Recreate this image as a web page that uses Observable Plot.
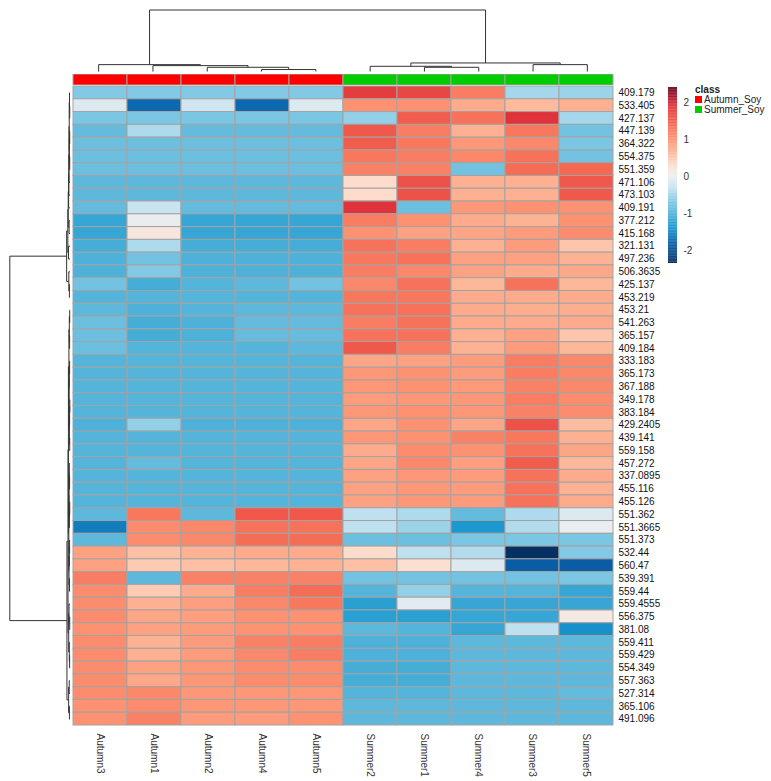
<!DOCTYPE html>
<html><head><meta charset="utf-8">
<script src="https://cdn.jsdelivr.net/npm/d3@7"></script>
<script src="https://cdn.jsdelivr.net/npm/@observablehq/plot@0.6"></script>
<style>
body{margin:0;background:#fff;font-family:"Liberation Sans",Arial,sans-serif;}
#wrap{position:relative;width:771px;height:781px;overflow:hidden;}
#wrap > svg, #wrap > div{position:absolute;}
.lg{font-size:10px;color:#222;white-space:nowrap;line-height:11px;}
</style></head><body><div id="wrap"></div>
<script>
// ---------- data ----------
const colLabels = ["Autumn3","Autumn1","Autumn2","Autumn4","Autumn5","Summer2","Summer1","Summer4","Summer3","Summer5"];
const colClasses = ["Autumn_Soy","Autumn_Soy","Autumn_Soy","Autumn_Soy","Autumn_Soy","Summer_Soy","Summer_Soy","Summer_Soy","Summer_Soy","Summer_Soy"];
const classNames = ["Autumn_Soy","Summer_Soy"];
const classColors = ["#ff0000","#00cc00"];
const rowLabels = ["409.179","533.405","427.137","447.139","364.322","554.375","551.359","471.106","473.103","409.191",
  "377.212","415.168","321.131","497.236","506.3635","425.137","453.219","453.21","541.263","365.157",
  "409.184","333.183","365.173","367.188","349.178","383.184","429.2405","439.141","559.158","457.272",
  "337.0895","455.116","455.126","551.362","551.3665","551.373","532.44","560.47","539.391","559.44",
  "559.4555","556.375","381.08","559.411","559.429","554.349","557.363","527.314","365.106","491.096"];
const values = [
  [-0.7,-0.7,-0.7,-0.7,-0.7, 1.8,1.7,1.2,-0.5,-0.55],
  [-0.15,-1.75,-0.25,-1.75,-0.15, 1.0,1.0,0.75,0.6,0.7],
  [-0.75,-0.75,-0.75,-0.75,-0.75, -0.6,1.5,1.3,1.9,-0.5],
  [-0.9,-0.45,-0.9,-0.9,-0.9, 1.55,1.2,0.7,1.25,-0.8],
  [-0.85,-0.85,-0.85,-0.85,-0.85, 1.5,1.25,0.95,1.1,-0.75],
  [-0.85,-0.85,-0.85,-0.85,-0.85, 1.25,1.2,1.1,1.3,-0.8],
  [-0.85,-0.85,-0.85,-0.85,-0.85, 1.15,1.15,-0.8,1.35,1.4],
  [-0.95,-0.95,-0.95,-0.95,-0.95, 0.3,1.6,0.7,0.7,1.55],
  [-0.95,-0.95,-0.95,-0.95,-0.95, 0.3,1.6,0.7,0.7,1.55],
  [-0.9,-0.3,-0.9,-0.9,-0.9, 1.9,-0.85,0.95,1.0,1.0],
  [-1.2,-0.05,-1.2,-1.2,-1.2, 1.2,1.0,0.75,0.68,1.0],
  [-1.2,0.15,-1.2,-1.2,-1.2, 1.0,0.85,0.8,0.9,1.05],
  [-1.1,-0.45,-1.1,-1.1,-1.1, 1.3,1.2,0.7,0.9,0.5],
  [-1.05,-0.8,-1.05,-1.05,-1.05, 1.25,1.3,0.85,0.85,0.68],
  [-1.05,-0.7,-1.05,-1.05,-1.05, 1.2,1.1,0.85,0.75,0.78],
  [-0.8,-1.1,-1.0,-0.95,-0.8, 1.1,1.3,0.62,1.3,0.62],
  [-1.0,-1.0,-1.0,-1.0,-1.0, 1.25,1.25,0.75,0.75,0.75],
  [-0.95,-1.05,-1.0,-0.95,-0.95, 1.3,1.3,0.75,0.72,0.72],
  [-0.85,-1.1,-1.05,-0.9,-0.9, 1.2,1.3,0.75,0.75,0.75],
  [-0.85,-1.1,-1.05,-0.88,-0.88, 1.3,1.3,0.7,0.85,0.5],
  [-0.85,-1.0,-1.0,-1.0,-0.95, 1.55,1.2,0.68,0.9,0.62],
  [-1,-1,-1,-1,-1, 0.8,0.85,0.9,1.2,1.1],
  [-1,-1,-1,-1,-1, 0.95,1.0,0.9,1.2,1.1],
  [-1,-1,-1,-1,-1, 0.95,1.0,0.92,1.15,1.1],
  [-1,-1,-1,-1,-1, 0.9,0.95,0.95,1.2,1.05],
  [-1,-1,-1,-1,-1, 0.95,1.0,0.95,1.15,1.05],
  [-1.05,-0.6,-1.05,-1.05,-1.05, 0.8,1.0,0.8,1.6,0.58],
  [-1,-1,-1,-1,-1, 0.95,1.0,1.15,1.25,0.7],
  [-1,-1,-1,-1,-1, 0.75,1.05,1.0,1.3,0.8],
  [-1,-0.9,-1,-1,-1, 0.8,1.1,0.88,1.5,0.62],
  [-1,-1,-1,-1,-1, 0.85,0.95,0.9,1.3,0.75],
  [-1,-1,-1,-1,-1, 0.85,0.95,0.9,1.3,0.68],
  [-1,-1,-1,-1,-1, 0.85,0.95,0.9,1.3,0.75],
  [-0.95,1.25,-0.95,1.55,1.55, -0.35,-0.45,-0.9,-0.45,-0.15],
  [-1.6,1.05,1.1,1.3,1.3, -0.35,-0.55,-1.4,-0.42,-0.05],
  [-0.95,1.05,1.1,1.35,1.35, -0.85,-0.85,-0.75,-0.75,-0.75],
  [0.85,0.55,0.68,0.75,0.75, 0.3,-0.35,-0.42,-2.35,-0.7],
  [0.85,0.45,0.55,0.62,0.68, 0.55,0.25,-0.15,-1.85,-1.85],
  [1.2,-0.95,1.15,1.15,1.15, -0.8,-0.8,-0.8,-0.8,-0.75],
  [1.05,0.45,0.75,1.2,1.35, -1.0,-0.6,-1.0,-1.0,-1.2],
  [1.05,0.7,0.88,1.1,1.25, -1.3,-0.1,-1.2,-1.2,-1.2],
  [1.05,0.8,0.88,1.0,1.0, -1.3,-1.3,-1.2,-1.2,0.1],
  [1.0,0.85,0.9,0.98,1.0, -0.95,-1.0,-1.2,-0.35,-1.45],
  [1.05,0.68,0.9,1.15,1.2, -1.05,-1.05,-0.95,-0.95,-0.95],
  [1.05,0.7,0.9,1.1,1.2, -1.05,-1.05,-0.95,-0.95,-0.95],
  [1.05,0.85,0.95,1.05,1.05, -1.1,-1.1,-0.95,-0.95,-0.95],
  [1.05,0.78,0.95,1.05,1.05, -1.1,-1.1,-0.95,-0.95,-0.95],
  [1.05,1.1,0.95,0.95,0.95, -1.0,-1.0,-0.95,-0.95,-0.9],
  [1.0,1.05,0.95,0.95,0.95, -0.95,-0.95,-0.95,-0.95,-0.95],
  [1.0,1.15,0.9,0.9,1.0, -0.95,-0.95,-0.95,-0.95,-0.95]
];
const legendTicks = [-2,-1,0,1,2];
const colorStops = [-2.35,-1.8,-1.4,-1.0,-0.6,-0.3,0,0.3,0.6,1.0,1.4,1.9,2.4];
const colorRamp = ["#053061","#0a62ab","#1a98cf","#55b4da","#92d0e8","#c8e4f0","#efefef","#fddccb","#fdba9c","#fc9272","#f56852","#e0323a","#67001f"];
// dendrograms: "(left,right)height", leaves are display positions
const colTree = "((0,(1,(2,(3,4)2)4.3)6)7,((5,(6,7)4.3)5.3,(8,9)7)8.7)62.7";
const rowTree = "((((0,1)0.6,(2,3)0.8)1.4,((((4,5)0.4,6)0.7,((7,8)0.3,9)1.0)1.3,"
  + "((((10,11)0.5,(12,(13,14)0.4)0.7)1.0,((15,(16,17)0.3)0.6,((18,19)0.4,20)0.7)0.9)1.2,"
  + "((((21,22)0.3,(23,(24,25)0.2)0.4)0.6,(26,(27,28)0.4)0.8)1.0,((29,30)0.4,(31,32)0.3)0.7)1.1)1.6)2.0)3.1,"
  + "(((33,34)0.6,35)1.2,((36,37)1.5,((38,39)0.9,(40,(41,(42,(((43,44)0.3,(45,46)0.3)0.6,((47,48)0.3,49)0.5)0.8)1.0)1.2)1.4)1.8)2.2)3.4)61";

// ---------- helpers ----------
function parseTree(s){
  let i = 0;
  const num = () => { const m = /^[0-9.]+/.exec(s.slice(i)); i += m[0].length; return +m[0]; };
  const node = () => {
    if (s[i] === "(") {
      i++; const a = node(); i++; const b = node(); i++;
      return {children:[a,b], h:num()};
    }
    return {leaf:num(), h:0};
  };
  return node();
}
function layout(n){
  if (n.children){ n.children.forEach(layout); n.pos = d3.mean(n.children, c => c.pos); }
  else n.pos = n.leaf + 0.5;
  return n;
}
function segments(n, out = []){
  if (n.children){
    const [a,b] = n.children;
    out.push({p1:a.pos,h1:a.h,p2:a.pos,h2:n.h},{p1:a.pos,h1:n.h,p2:b.pos,h2:n.h},{p1:b.pos,h1:n.h,p2:b.pos,h2:b.h});
    segments(a,out); segments(b,out);
  }
  return out;
}
const font = "'Liberation Sans', Arial, sans-serif";
const colorOpt = {type:"linear", domain:colorStops, range:colorRamp, interpolate:"rgb"};
const wrap = document.getElementById("wrap");
function place(el, left, top){ el.style.left = left + "px"; el.style.top = top + "px"; wrap.appendChild(el); }

// ---------- heatmap ----------
const cells = values.flatMap((r,i) => r.map((v,j) => ({row:rowLabels[i], col:colLabels[j], v})));
const heat = Plot.plot({
  width:771, height:781, marginLeft:71, marginRight:157, marginTop:86, marginBottom:56,
  style:{fontFamily:font, fontSize:"10px", background:"transparent"},
  x:{type:"band", domain:colLabels, padding:0, label:null},
  y:{type:"band", domain:rowLabels, padding:0, label:null},
  color:colorOpt,
  marks:[
    Plot.cell(cells, {x:"col", y:"row", fill:"v", stroke:"#a3a3a3", strokeWidth:1, inset:0}),
    Plot.axisY({anchor:"right", tickSize:0, tickPadding:4, fill:"#111", label:null}),
    Plot.axisX({anchor:"bottom", tickSize:0, tickPadding:8, tickRotate:90, fill:"#333", label:null})
  ]
});
place(heat, 0, 0);

// ---------- column dendrogram ----------
const colRoot = layout(parseTree(colTree));
const colDendro = Plot.plot({
  width:771, height:73, marginLeft:71, marginRight:157, marginTop:9.5, marginBottom:2,
  style:{background:"transparent"},
  x:{domain:[0, colLabels.length], axis:null},
  y:{domain:[0, colRoot.h], axis:null},
  marks:[Plot.link(segments(colRoot), {x1:"p1", y1:"h1", x2:"p2", y2:"h2", stroke:"#333", strokeWidth:1})]
});
place(colDendro, 0, 0);

// ---------- class annotation bar ----------
const annot = Plot.plot({
  width:771, height:11, marginLeft:71, marginRight:157, marginTop:0, marginBottom:0,
  style:{background:"transparent"},
  x:{type:"band", domain:colLabels, padding:0, axis:null},
  color:{type:"ordinal", domain:classNames, range:classColors},
  marks:[Plot.cell(colLabels, {x:d => d, fill:(d,i) => colClasses[i], stroke:"#a3a3a3", strokeWidth:1, inset:0})]
});
place(annot, 0, 73.5);

// ---------- row dendrogram ----------
const rowRoot = layout(parseTree(rowTree));
const rowDendro = Plot.plot({
  width:71, height:639, marginLeft:9.3, marginRight:1.5, marginTop:0, marginBottom:0,
  style:{background:"transparent"},
  x:{domain:[rowRoot.h, 0], axis:null},
  y:{domain:[0, rowLabels.length], axis:null},
  marks:[Plot.link(segments(rowRoot), {x1:"h1", y1:"p1", x2:"h2", y2:"p2", stroke:"#333", strokeWidth:1})]
});
place(rowDendro, 0, 86);

// ---------- colour legend ----------
const step = 0.02;
const rampVals = d3.range(colorStops[0], colorStops[colorStops.length-1], step);
const legend = Plot.plot({
  width:40, height:190, marginLeft:8, marginRight:23, marginTop:7, marginBottom:7,
  style:{fontFamily:font, fontSize:"10px", background:"transparent"},
  x:{domain:[0,1], axis:null},
  y:{domain:[colorStops[0], colorStops[colorStops.length-1]], axis:null},
  color:colorOpt,
  marks:[
    Plot.rect(rampVals, {x1:0, x2:1, y1:d => d, y2:d => Math.min(d + step * 1.3, colorStops[colorStops.length-1]), fill:d => d}),
    Plot.axisY({anchor:"right", ticks:legendTicks, tickSize:0, tickPadding:6, tickFormat:d => String(d), fill:"#333", label:null})
  ]
});
place(legend, 660, 80);

// ---------- class legend ----------
const title = document.createElement("div");
title.className = "lg"; title.style.fontWeight = "bold"; title.textContent = "class";
place(title, 695, 84);
classNames.forEach((c, k) => {
  const sw = document.createElement("div");
  sw.style.width = "7px"; sw.style.height = "7px"; sw.style.background = classColors[k];
  place(sw, 695, 96 + k * 10);
  const t = document.createElement("div");
  t.className = "lg"; t.textContent = c;
  place(t, 704, 93.5 + k * 10);
});
</script></body></html>
